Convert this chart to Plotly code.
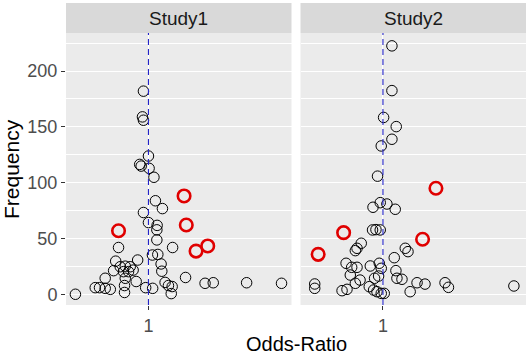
import plotly.graph_objects as go

# ---- data (odds ratio, frequency) ----
s1_or = [0.926, 0.912, 0.926, 1.0, 0.874, 0.894, 1.01, 1.088, 1.113, 1.24, 0.926, 1.0, 1.143,
         1.138, 1.138, 0.631, 1.45, 1.063, 1.155, 0.847, 0.604, 1.215, 0.648, 0.70, 0.755, 0.681,
         0.736, 0.79, 0.585, 1.228, 1.77, 0.514, 0.70, 0.828, 1.292, 2.39, 2.71, 4.53, 7.75,
         0.441, 0.471, 0.514, 0.556, 0.692, 0.692, 0.958, 1.067, 1.36, 1.44, 1.42, 0.325]
s1_freq = [182, 159, 156, 124, 116.5, 115, 113, 105, 84, 77, 73.5, 64.5, 62,
           58, 49, 42.2, 42.2, 35.5, 36, 31, 30, 27.5, 25, 25.5, 25, 20.6,
           20.6, 22, 21.5, 21, 15.4, 14.7, 14.7, 11.8, 11, 10.2, 10.7, 10.7, 10.2,
           6.3, 6.3, 5.7, 4.8, 8.2, 2, 6.3, 5.7, 8.2, 7.3, 1, 0.4]
s1_red_or = [1.73, 1.79, 0.631, 2.08, 2.49]
s1_red_freq = [88.3, 62.3, 57.2, 39, 43.6]

s2_or = [1.148, 1.148, 1.01, 1.227, 1.148, 0.974, 0.92, 0.858, 0.959, 1.063, 1.208, 0.852,
         0.898, 0.959, 0.716, 0.671, 0.654, 1.41, 1.47, 1.19, 0.567, 0.618, 0.671, 0.823,
         0.945, 0.974, 1.221, 0.605, 0.879, 0.935, 1.24, 1.34, 0.654, 0.703, 1.69, 1.91,
         2.6, 2.74, 7.5, 0.35, 0.35, 0.533, 0.575, 0.81, 0.866, 0.912, 0.974, 1.52, 1.02]
s2_freq = [222.5, 182.5, 158.5, 150.3, 139, 133, 106, 78.2, 82.3, 81.1, 76.4, 57.9,
           58.2, 57.9, 46, 41.5, 39.4, 41.5, 38.5, 33.1, 28.1, 24.5, 24.5, 25.7,
           28.1, 23.6, 21.5, 17.6, 14.7, 16.7, 14.7, 13.8, 10.2, 13.1, 10.7, 9.5,
           10.7, 6.6, 7.8, 9.6, 5.7, 3.6, 4.8, 7.2, 4.2, 2.7, 1.2, 2.7, 1.2]
s2_red_or = [2.26, 0.546, 1.84, 0.369]
s2_red_freq = [95.2, 55.5, 49.6, 36.1]

panels = ["Study1", "Study2"]
y_ticks = [0, 50, 100, 150, 200]
y_minor = [25, 75, 125, 175, 225]

W, H = 529, 355
ML, MR, MT, MB = 66, 3, 33, 50
plot_h = H - MT - MB
plot_w = W - ML - MR
gap = 9
pw = (plot_w - gap) / 2

fig = go.Figure()

def black(x, y, xa, ya):
    return go.Scatter(x=x, y=y, mode="markers", xaxis=xa, yaxis=ya, showlegend=False,
                      hoverinfo="skip",
                      marker=dict(symbol="circle-open", size=10.5, color="black",
                                  line=dict(width=1, color="black")))

def red(x, y, xa, ya):
    return go.Scatter(x=x, y=y, mode="markers", xaxis=xa, yaxis=ya, showlegend=False,
                      hoverinfo="skip",
                      marker=dict(symbol="circle-open", size=12.5, color="#e00000",
                                  line=dict(width=2.6, color="#e00000")))

fig.add_trace(black(s1_or, s1_freq, "x", "y"))
fig.add_trace(red(s1_red_or, s1_red_freq, "x", "y"))
fig.add_trace(black(s2_or, s2_freq, "x2", "y2"))
fig.add_trace(red(s2_red_or, s2_red_freq, "x2", "y2"))

d1 = [0, pw / plot_w]
d2 = [(pw + gap) / plot_w, 1]

FONT = "Liberation Sans, Arial"
xcommon = dict(type="log", range=[-0.551, 0.956], tickvals=[1], ticktext=["1"],
               showgrid=True, gridcolor="white", gridwidth=1.1, zeroline=False,
               ticks="outside", ticklen=4, tickcolor="#333333",
               tickfont=dict(family=FONT, size=18, color="#4d4d4d"),
               showline=False)
ycommon = dict(range=[-9.2, 234], tickvals=y_ticks, showgrid=True, gridcolor="white",
               gridwidth=1.1, zeroline=False, tickcolor="#333333", ticklen=4,
               tickfont=dict(family=FONT, size=18, color="#4d4d4d"),
               minor=dict(tickvals=y_minor, showgrid=True, gridcolor="white", gridwidth=0.5,
                          ticks=""),
               showline=False)

fig.update_layout(
    width=W, height=H,
    margin=dict(l=ML, r=MR, t=MT, b=MB, pad=0),
    paper_bgcolor="white", plot_bgcolor="#EBEBEB",
    xaxis=dict(domain=d1, anchor="y", **xcommon),
    xaxis2=dict(domain=d2, anchor="y2", **xcommon),
    yaxis=dict(domain=[0, 1], anchor="x", ticks="outside", **ycommon),
    yaxis2=dict(domain=[0, 1], anchor="x2", showticklabels=False, ticks="", **ycommon),
)

strip_top = 1 + 30 / plot_h
shapes = []
annotations = []
for i, (dom, name) in enumerate(zip([d1, d2], panels)):
    shapes.append(dict(type="rect", xref="paper", yref="paper", x0=dom[0], x1=dom[1],
                       y0=1, y1=strip_top, fillcolor="#D9D9D9", line=dict(width=0),
                       layer="below"))
    annotations.append(dict(text=name, xref="paper", yref="paper",
                            x=(dom[0] + dom[1]) / 2, y=1 + 14 / plot_h,
                            xanchor="center", yanchor="middle", showarrow=False,
                            font=dict(family=FONT, size=19, color="#1a1a1a")))
    xr = "x" if i == 0 else "x2"
    yr = "y domain" if i == 0 else "y2 domain"
    shapes.append(dict(type="line", xref=xr, yref=yr, x0=1, x1=1, y0=0, y1=1,
                       line=dict(color="#2424c8", width=1.1, dash="6px,4px"), layer="above"))

annotations.append(dict(text="Odds-Ratio", xref="paper", yref="paper", x=0.5,
                        y=-(344 - (H - MB)) / plot_h, xanchor="center", yanchor="middle",
                        showarrow=False,
                        font=dict(family=FONT, size=20, color="black")))
annotations.append(dict(text="Frequency", xref="paper", yref="paper",
                        x=(11 - ML) / plot_w, y=(H - MB - 169) / plot_h, textangle=-90,
                        xanchor="center", yanchor="middle", showarrow=False,
                        font=dict(family=FONT, size=21, color="black")))

fig.update_layout(shapes=shapes, annotations=annotations)
fig.write_html("out.html", config={"displayModeBar": False},
               post_script="document.body.style.margin='0';document.body.style.padding='0';")
